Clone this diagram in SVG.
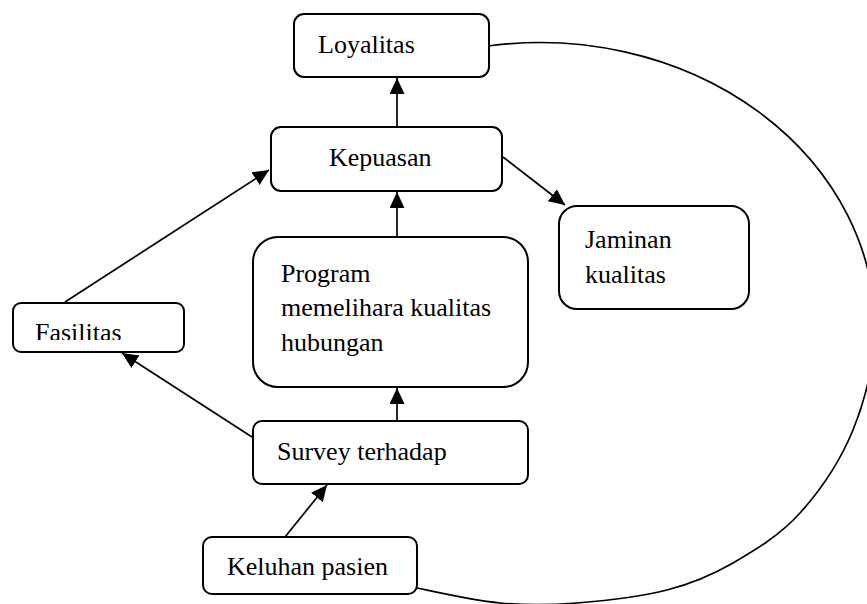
<svg xmlns="http://www.w3.org/2000/svg" width="867" height="604" viewBox="0 0 867 604">
<style>
.box{fill:#fff;stroke:#000;stroke-width:2}
.t{font-family:"Liberation Serif","Times New Roman",serif;font-size:26px;fill:#000}
.c{fill:none;stroke:#000;stroke-width:1.7}
</style>
<defs>
<marker id="ah" markerUnits="userSpaceOnUse" markerWidth="17" markerHeight="16" refX="16" refY="7.5" orient="auto">
<path d="M0,0 L16,7.5 L0,15 z" fill="#000"/>
</marker>
<clipPath id="fclip"><rect x="0" y="300" width="200" height="40"/></clipPath>
</defs>
<rect width="867" height="604" fill="#fff"/>
<g id="connectors">
<path class="c" d="M488,46 A335,286 0 0 1 875,330 C875,360 865.5,399.5 853,430 C840.5,460.5 820,490.8 800,513 C780,535.2 755.2,550.2 733,563 C710.8,575.8 693,583.3 667,590 C641,596.7 604.8,600.8 577,603 C549.2,605.2 526.7,605.5 500,603 C473.3,600.5 445,594 417,588"/>
<line class="c" x1="397" y1="127" x2="397" y2="78" marker-end="url(#ah)"/>
<line class="c" x1="397" y1="237" x2="397" y2="192" marker-end="url(#ah)"/>
<line class="c" x1="397" y1="421" x2="397" y2="388" marker-end="url(#ah)"/>
<line class="c" x1="503" y1="157" x2="565" y2="205" marker-end="url(#ah)"/>
<line class="c" x1="65" y1="302" x2="269" y2="170" marker-end="url(#ah)"/>
<line class="c" x1="252" y1="437" x2="122" y2="353" marker-end="url(#ah)"/>
<line class="c" x1="285" y1="537" x2="327" y2="485" marker-end="url(#ah)"/>
</g>
<g id="loyalitas">
<rect class="box" x="294" y="14" width="195" height="63" rx="10"/>
<text class="t" x="318" y="53">Loyalitas</text>
</g>
<g id="kepuasan">
<rect class="box" x="271" y="127" width="231" height="64" rx="10"/>
<text class="t" x="329" y="166">Kepuasan</text>
</g>
<g id="jaminan">
<rect class="box" x="559" y="206" width="190" height="103" rx="18"/>
<text class="t" x="585" y="248">Jaminan</text>
<text class="t" x="585" y="283">kualitas</text>
</g>
<g id="program">
<rect class="box" x="253" y="237" width="275" height="150" rx="25"/>
<text class="t" x="281" y="282">Program</text>
<text class="t" x="281" y="316">memelihara kualitas</text>
<text class="t" x="281" y="351">hubungan</text>
</g>
<g id="fasilitas">
<rect class="box" x="13" y="303" width="171" height="49" rx="8"/>
<text class="t" x="35" y="341" clip-path="url(#fclip)">Fasilitas</text>
</g>
<g id="survey">
<rect class="box" x="253" y="421" width="275" height="63" rx="9"/>
<text class="t" x="277" y="460">Survey terhadap</text>
</g>
<g id="keluhan">
<rect class="box" x="203" y="537" width="214" height="57" rx="9"/>
<text class="t" x="227" y="575">Keluhan pasien</text>
</g>
</svg>
